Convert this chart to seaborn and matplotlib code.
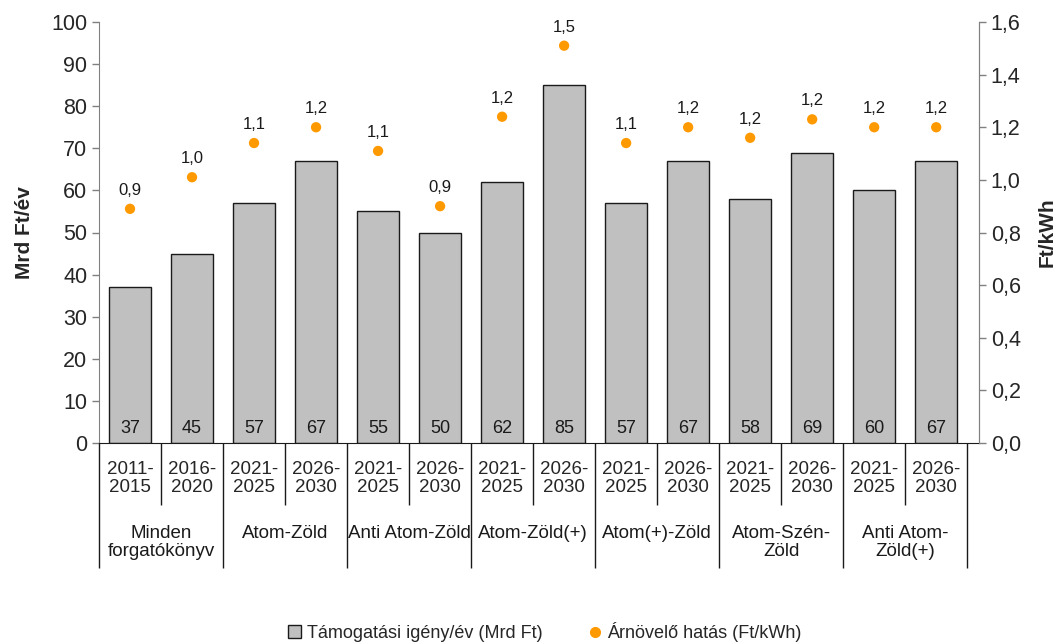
import matplotlib
matplotlib.use("Agg")
import matplotlib.pyplot as plt
import matplotlib.transforms as mtransforms
from matplotlib.patches import Patch
from matplotlib.lines import Line2D
import seaborn as sns
import numpy as np
import pandas as pd

# data
idoszak = ["2011-\n2015", "2016-\n2020",
           "2021-\n2025", "2026-\n2030",
           "2021-\n2025", "2026-\n2030",
           "2021-\n2025", "2026-\n2030",
           "2021-\n2025", "2026-\n2030",
           "2021-\n2025", "2026-\n2030",
           "2021-\n2025", "2026-\n2030"]
forgatokonyv = ["Minden\nforgatókönyv", "Atom-Zöld", "Anti Atom-Zöld",
                "Atom-Zöld(+)", "Atom(+)-Zöld", "Atom-Szén-\nZöld",
                "Anti Atom-\nZöld(+)"]
tamogatas = [37, 45, 57, 67, 55, 50, 62, 85, 57, 67, 58, 69, 60, 67]
arnovelo = [0.89, 1.01, 1.14, 1.20, 1.11, 0.90, 1.24, 1.51, 1.14, 1.20, 1.16, 1.23, 1.20, 1.20]

sns.set_style("white")
plt.rcParams["font.family"] = ["Liberation Sans", "DejaVu Sans"]

pos = np.arange(len(tamogatas))
df = pd.DataFrame({"pos": pos, "tam": tamogatas, "arny": arnovelo})

fig = plt.figure(figsize=(10.59, 6.44), dpi=100)
ax = fig.add_axes([99 / 1059, 1 - 443 / 644, (979 - 99) / 1059, (443 - 22) / 644])

sns.barplot(data=df, x="pos", y="tam", color="#C0C0C0", edgecolor="#1a1a1a",
            linewidth=1, width=0.67, saturation=1, ax=ax)

ax.set_ylim(0, 100)
ax.set_yticks(range(0, 101, 10))
ax.set_xlim(-0.5, 13.69)
ax.set_xticks(pos)
ax.set_xticklabels(idoszak, fontsize=13.5, linespacing=1.1)
ax.tick_params(axis="x", length=0, pad=13)
ax.tick_params(axis="y", labelsize=15.5, length=5, width=1, color="#808080", left=True)
ax.set_xlabel("")
ax.set_ylabel("Mrd Ft/év", fontsize=15, fontweight="bold", labelpad=12)

ax.spines["top"].set_visible(False)
ax.spines["left"].set_color("#808080")
ax.spines["right"].set_color("#808080")
ax.spines["bottom"].set_color("#1a1a1a")

# bar value labels near the base
for p, v in zip(pos, tamogatas):
    ax.annotate(str(v), (p, 0), xytext=(0, 10.5), textcoords="offset points",
                ha="center", va="center", fontsize=13, color="#1a1a1a")

# separators below the axis
trans = mtransforms.blended_transform_factory(ax.transData, ax.transAxes)
h = (443 - 22)
ax.vlines(np.arange(0.5, 14, 2), -62 / h, 0, transform=trans, color="#1a1a1a",
          lw=1, clip_on=False)
ax.vlines(np.arange(-0.5, 14, 2), -125 / h, 0, transform=trans, color="#1a1a1a",
          lw=1, clip_on=False)
for i, nev in enumerate(forgatokonyv):
    ax.text(2 * i + 0.5, -82 / h, nev, transform=trans, ha="center", va="top",
            fontsize=13.5, linespacing=1.1, color="#1a1a1a")

# secondary axis with price effect
ax2 = ax.twinx()
sns.scatterplot(data=df, x="pos", y="arny", color="#FF9900", s=55, edgecolor="none",
                ax=ax2, zorder=5)
ax2.set_ylim(0, 1.6)
ax2.set_yticks(np.arange(0, 1.61, 0.2))
ax2.set_yticklabels([f"{t:.1f}".replace(".", ",") for t in np.arange(0, 1.61, 0.2)])
ax2.tick_params(axis="y", labelsize=15.5, length=5, width=1, color="#808080", right=True)
ax2.set_ylabel("Ft/kWh", fontsize=15, fontweight="bold", labelpad=12)
ax2.set_xlabel("")
ax2.set_xlim(-0.5, 13.69)
for s in ["top", "bottom", "left"]:
    ax2.spines[s].set_visible(False)
ax2.spines["right"].set_color("#808080")

for p, v in zip(pos, arnovelo):
    ax2.annotate(f"{v:.1f}".replace(".", ","), (p, v), xytext=(0, 8),
                 textcoords="offset points", ha="center", va="bottom",
                 fontsize=12, color="#1a1a1a")

handles = [Patch(facecolor="#C0C0C0", edgecolor="#1a1a1a", linewidth=1),
           Line2D([], [], marker="o", linestyle="none", color="#FF9900",
                  markersize=7)]
fig.legend(handles, ["Támogatási igény/év (Mrd Ft)", "Árnövelő hatás (Ft/kWh)"],
           loc="center", bbox_to_anchor=(545 / 1059, 1 - 632 / 644), ncol=2,
           frameon=False, fontsize=13, handlelength=0.7, handleheight=0.7,
           handletextpad=0.3, columnspacing=2.6)

fig.savefig("out.png", dpi=100)
